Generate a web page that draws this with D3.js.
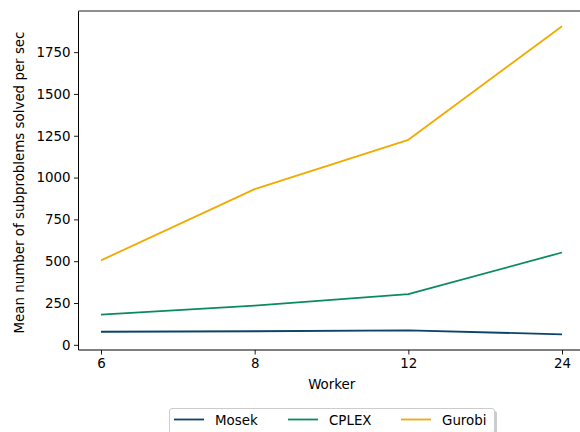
<!DOCTYPE html>
<html><head><meta charset="utf-8">
<script src="https://cdn.jsdelivr.net/npm/d3@7"></script>
<style>body{margin:0;background:#fff}svg{display:block}text{font-family:"DejaVu Sans",sans-serif;fill:#000}</style>
</head><body><svg id="c" width="580" height="432"></svg>
<script>
const workers = ["6", "8", "12", "24"];
const mosek = [78, 81, 86, 63];
const cplex = [180, 234, 303, 552];
const gurobi = [505, 931, 1226, 1905];
const seriesNames = ["Mosek", "CPLEX", "Gurobi"];
const seriesColors = ["#0b4468", "#0a8a5f", "#f2a900"];
const yTicks = [0, 250, 500, 750, 1000, 1250, 1500, 1750];

const FS = "13.4px";
const svg = d3.select("#c");
const L = 78.5, R = 585, T = 11, B = 350;
const x = d3.scalePoint().domain(workers).range([101, 562]);
const y = d3.scaleLinear().domain([-31, 1996]).range([B, T]);

const g = svg.append("g");
// y axis
const ya = g.append("g").attr("transform", `translate(${L},0)`)
  .call(d3.axisLeft(y).tickValues(yTicks).tickSize(4.5).tickPadding(3.5).tickFormat(d3.format("d")));
ya.select(".domain").remove();
ya.selectAll("text").style("font-size", FS).style("font-family", "DejaVu Sans");
ya.selectAll("line").attr("stroke", "#000").attr("stroke-width", 0.9);
// x axis
const xa = g.append("g").attr("transform", `translate(0,${B})`)
  .call(d3.axisBottom(x).tickSize(4.5).tickPadding(3.5));
xa.select(".domain").remove();
xa.selectAll("text").style("font-size", FS).style("font-family", "DejaVu Sans");
xa.selectAll("line").attr("stroke", "#000").attr("stroke-width", 0.9);

// spines
g.append("line").attr("x1", L).attr("x2", L).attr("y1", T).attr("y2", B).attr("stroke", "#000").attr("stroke-width", 1);
g.append("line").attr("x1", L).attr("x2", R).attr("y1", B).attr("y2", B).attr("stroke", "#000").attr("stroke-width", 1);
g.append("line").attr("x1", L).attr("x2", R).attr("y1", T).attr("y2", T).attr("stroke", "#6a6a6a").attr("stroke-width", 1.6);

// lines
const data = [mosek, cplex, gurobi];
const line = d3.line().x((d, i) => x(workers[i])).y(d => y(d));
data.forEach((s, k) => {
  g.append("path").datum(s).attr("d", line).attr("fill", "none")
    .attr("stroke", seriesColors[k]).attr("stroke-width", 1.8).attr("stroke-linejoin", "round");
});

// labels
g.append("text").attr("x", (L + R) / 2).attr("y", 389).attr("text-anchor", "middle")
  .style("font-size", FS).text("Worker");
g.append("text").attr("transform", `translate(24,${(T + B) / 2 + 2}) rotate(-90)`).attr("text-anchor", "middle")
  .style("font-size", FS).text("Mean number of subproblems solved per sec");

// legend
const lg = svg.append("g");
lg.append("rect").attr("x", 172).attr("y", 411).attr("width", 325).attr("height", 40).attr("rx", 2.5)
  .attr("fill", "#999").attr("opacity", 0.5);
lg.append("rect").attr("x", 169.5).attr("y", 408.5).attr("width", 325).attr("height", 40).attr("rx", 2.5)
  .attr("fill", "#fff").attr("stroke", "#cccccc").attr("stroke-width", 1);
const lx = [174, 288, 401];
seriesNames.forEach((n, k) => {
  lg.append("line").attr("x1", lx[k]).attr("x2", lx[k] + 30).attr("y1", 419.5).attr("y2", 419.5)
    .attr("stroke", seriesColors[k]).attr("stroke-width", 1.8);
  lg.append("text").attr("x", lx[k] + 41).attr("y", 424.5).style("font-size", FS).text(n);
});
</script></body></html>
